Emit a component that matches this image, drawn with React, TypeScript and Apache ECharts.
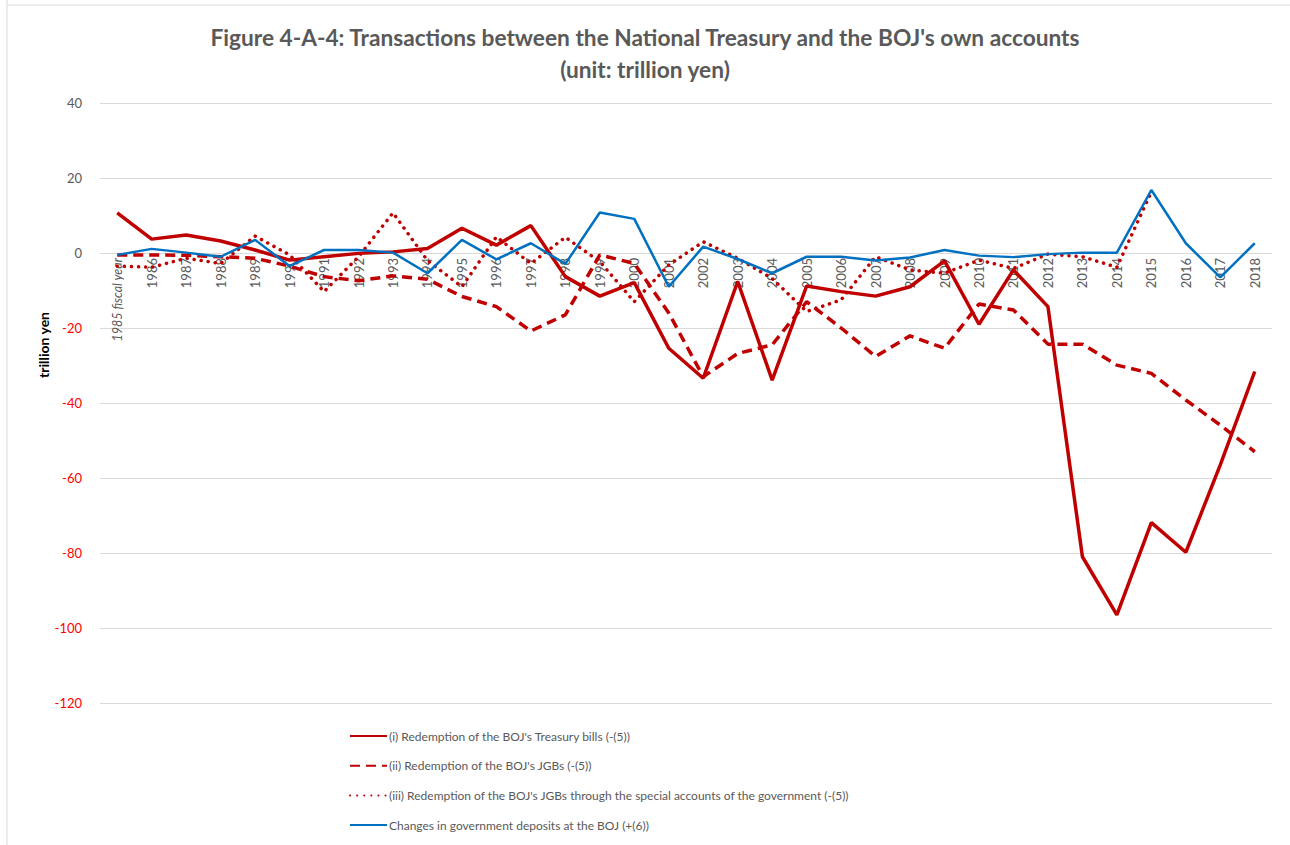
import React, { useEffect, useRef } from "react";
import * as echarts from "echarts";

const years: string[] = [
  "1985 fiscal year", "1986", "1987", "1988", "1989", "1990", "1991", "1992", "1993", "1994",
  "1995", "1996", "1997", "1998", "1999", "2000", "2001", "2002", "2003", "2004",
  "2005", "2006", "2007", "2008", "2009", "2010", "2011", "2012", "2013", "2014",
  "2015", "2016", "2017", "2018",
];

const treasuryBills: number[] = [
  10.7, 3.7, 4.8, 3.2, 0.8, -1.9, -1, -0.1, 0.3, 1.2,
  6.6, 2.1, 7.3, -6.3, -11.5, -7.9, -25.4, -33.4, -7.6, -33.9,
  -8.8, -10.3, -11.5, -9, -2.1, -19, -4.5, -14.3, -81, -96.5,
  -71.9, -79.8, -56.5, -31.6,
];

const jgbs: number[] = [
  -0.5, -0.5, -0.6, -1, -1.4, -3.5, -6.3, -7.4, -6.1, -7,
  -11.6, -14.3, -20.8, -16.5, -0.5, -2.8, -16, -33, -26.8, -24.5,
  -13, -20, -27.6, -22.1, -25.4, -13.6, -15.2, -24.3, -24.3, -29.9,
  -32.1, -39.2, -45.9, -53,
];

const specialAccounts: (number | null)[] = [
  -3.5, -3.8, -1.4, -2.8, 4.5, -0.5, -10.3, -1, 10.7, -2,
  -9, 4.3, -2.8, 4.2, -2.3, -13, -3.2, 3, -1.4, -6.8,
  -15.6, -12.5, -1, -4.5, -5.4, -1.9, -4.1, -0.3, -1, -3.8,
  16.3, null, null, null,
];

const govDeposits: number[] = [
  -0.5, 1.1, 0.1, -1, 3.5, -3.5, 0.8, 0.8, 0.1, -5.4,
  3.5, -1.7, 2.6, -2.9, 10.8, 9.1, -9, 1.7, -1.6, -5.4,
  -1, -1, -2, -1.2, 0.8, -0.7, -1.1, -0.3, 0.1, 0.1,
  16.8, 2.6, -6.5, 2.6,
];

const seriesNames: string[] = [
  "(i) Redemption of the BOJ's Treasury bills (-(5))",
  "(ii) Redemption of the BOJ's JGBs (-(5))",
  "(iii) Redemption of the BOJ's JGBs through the special accounts of the government (-(5))",
  "Changes in government deposits at the BOJ (+(6))",
];

const FONT = "Lato";
const GREY = "#595959";
const RED = "#C00000";
const BLUE = "#0070C0";

export default function App() {
  const ref = useRef<HTMLDivElement>(null);
  useEffect(() => {
    if (!ref.current) return;
    const chart = echarts.init(ref.current, undefined, { renderer: "svg" });
    chart.setOption({
      animation: false,
      backgroundColor: "#ffffff",
      textStyle: { fontFamily: FONT },
      title: {
        text: "Figure 4-A-4: Transactions between the National Treasury and the BOJ's own accounts\n(unit: trillion yen)",
        left: "center",
        top: 16,
        textStyle: { fontFamily: FONT, fontSize: 22.7, fontWeight: "bold", color: GREY, lineHeight: 32 },
      },
      grid: { left: 100, right: 18, top: 103, bottom: 142, containLabel: false },
      xAxis: {
        type: "category",
        data: years,
        boundaryGap: true,
        position: "bottom",
        offset: -450,
        axisLine: { show: false, onZero: false },
        axisTick: { show: false },
        axisLabel: {
          rotate: 90,
          interval: 0,
          color: GREY,
          fontSize: 13,
          fontFamily: FONT,
          margin: 5,
          formatter: (v: string, i: number) => (i === 0 ? "{it|" + v + "}" : v),
          rich: {
            it: { fontStyle: "italic", fontSize: 12.5, color: GREY, fontFamily: FONT },
          },
        },
      },
      yAxis: {
        type: "value",
        min: -120,
        max: 40,
        interval: 20,
        axisLine: { show: false },
        axisTick: { show: false },
        splitLine: { lineStyle: { color: "#d9d9d9", width: 1 } },
        axisLabel: {
          fontSize: 13,
          fontFamily: FONT,
          margin: 18,
          color: (v: any) => (Number(v) < 0 ? "#FF0000" : GREY),
        },
      },
      legend: {
        orient: "vertical",
        left: 344,
        top: 725,
        itemGap: 17.7,
        itemWidth: 37,
        itemHeight: 12,
        itemStyle: { opacity: 0 },
        textStyle: { color: GREY, fontSize: 12, fontFamily: FONT, padding: [0, 0, 0, -3] },
        data: seriesNames,
      },
      graphic: [
        { type: "line", shape: { x1: 7, y1: 0, x2: 7, y2: 845 }, style: { stroke: "#d9d9d9", lineWidth: 1 } },
        { type: "line", shape: { x1: 7, y1: 5, x2: 1290, y2: 5 }, style: { stroke: "#d9d9d9", lineWidth: 1 } },
        {
          type: "text",
          x: 43,
          y: 345,
          rotation: Math.PI / 2,
          style: {
            text: "trillion yen",
            fontFamily: FONT,
            fontSize: 14,
            fontWeight: "bold",
            fill: "#000000",
            align: "center",
            verticalAlign: "middle",
          },
        },
      ],
      series: [
        {
          name: seriesNames[0],
          type: "line",
          data: treasuryBills,
          symbol: "none",
          lineStyle: { color: RED, width: 3.5, type: "solid" },
          itemStyle: { color: RED },
        },
        {
          name: seriesNames[1],
          type: "line",
          data: jgbs,
          symbol: "none",
          lineStyle: { color: RED, width: 3.5, type: [10, 6] },
          itemStyle: { color: RED },
        },
        {
          name: seriesNames[2],
          type: "line",
          data: specialAccounts,
          symbol: "none",
          connectNulls: false,
          lineStyle: { color: RED, width: 3.5, type: [0.1, 7], cap: "round" },
          itemStyle: { color: RED },
        },
        {
          name: seriesNames[3],
          type: "line",
          data: govDeposits,
          symbol: "none",
          lineStyle: { color: BLUE, width: 2.5, type: "solid" },
          itemStyle: { color: BLUE },
        },
      ],
    });
    return () => chart.dispose();
  }, []);
  return (
    <div
      ref={ref}
      style={{ position: "absolute", left: 0, top: 0, width: 1290, height: 845 }}
    />
  );
}
